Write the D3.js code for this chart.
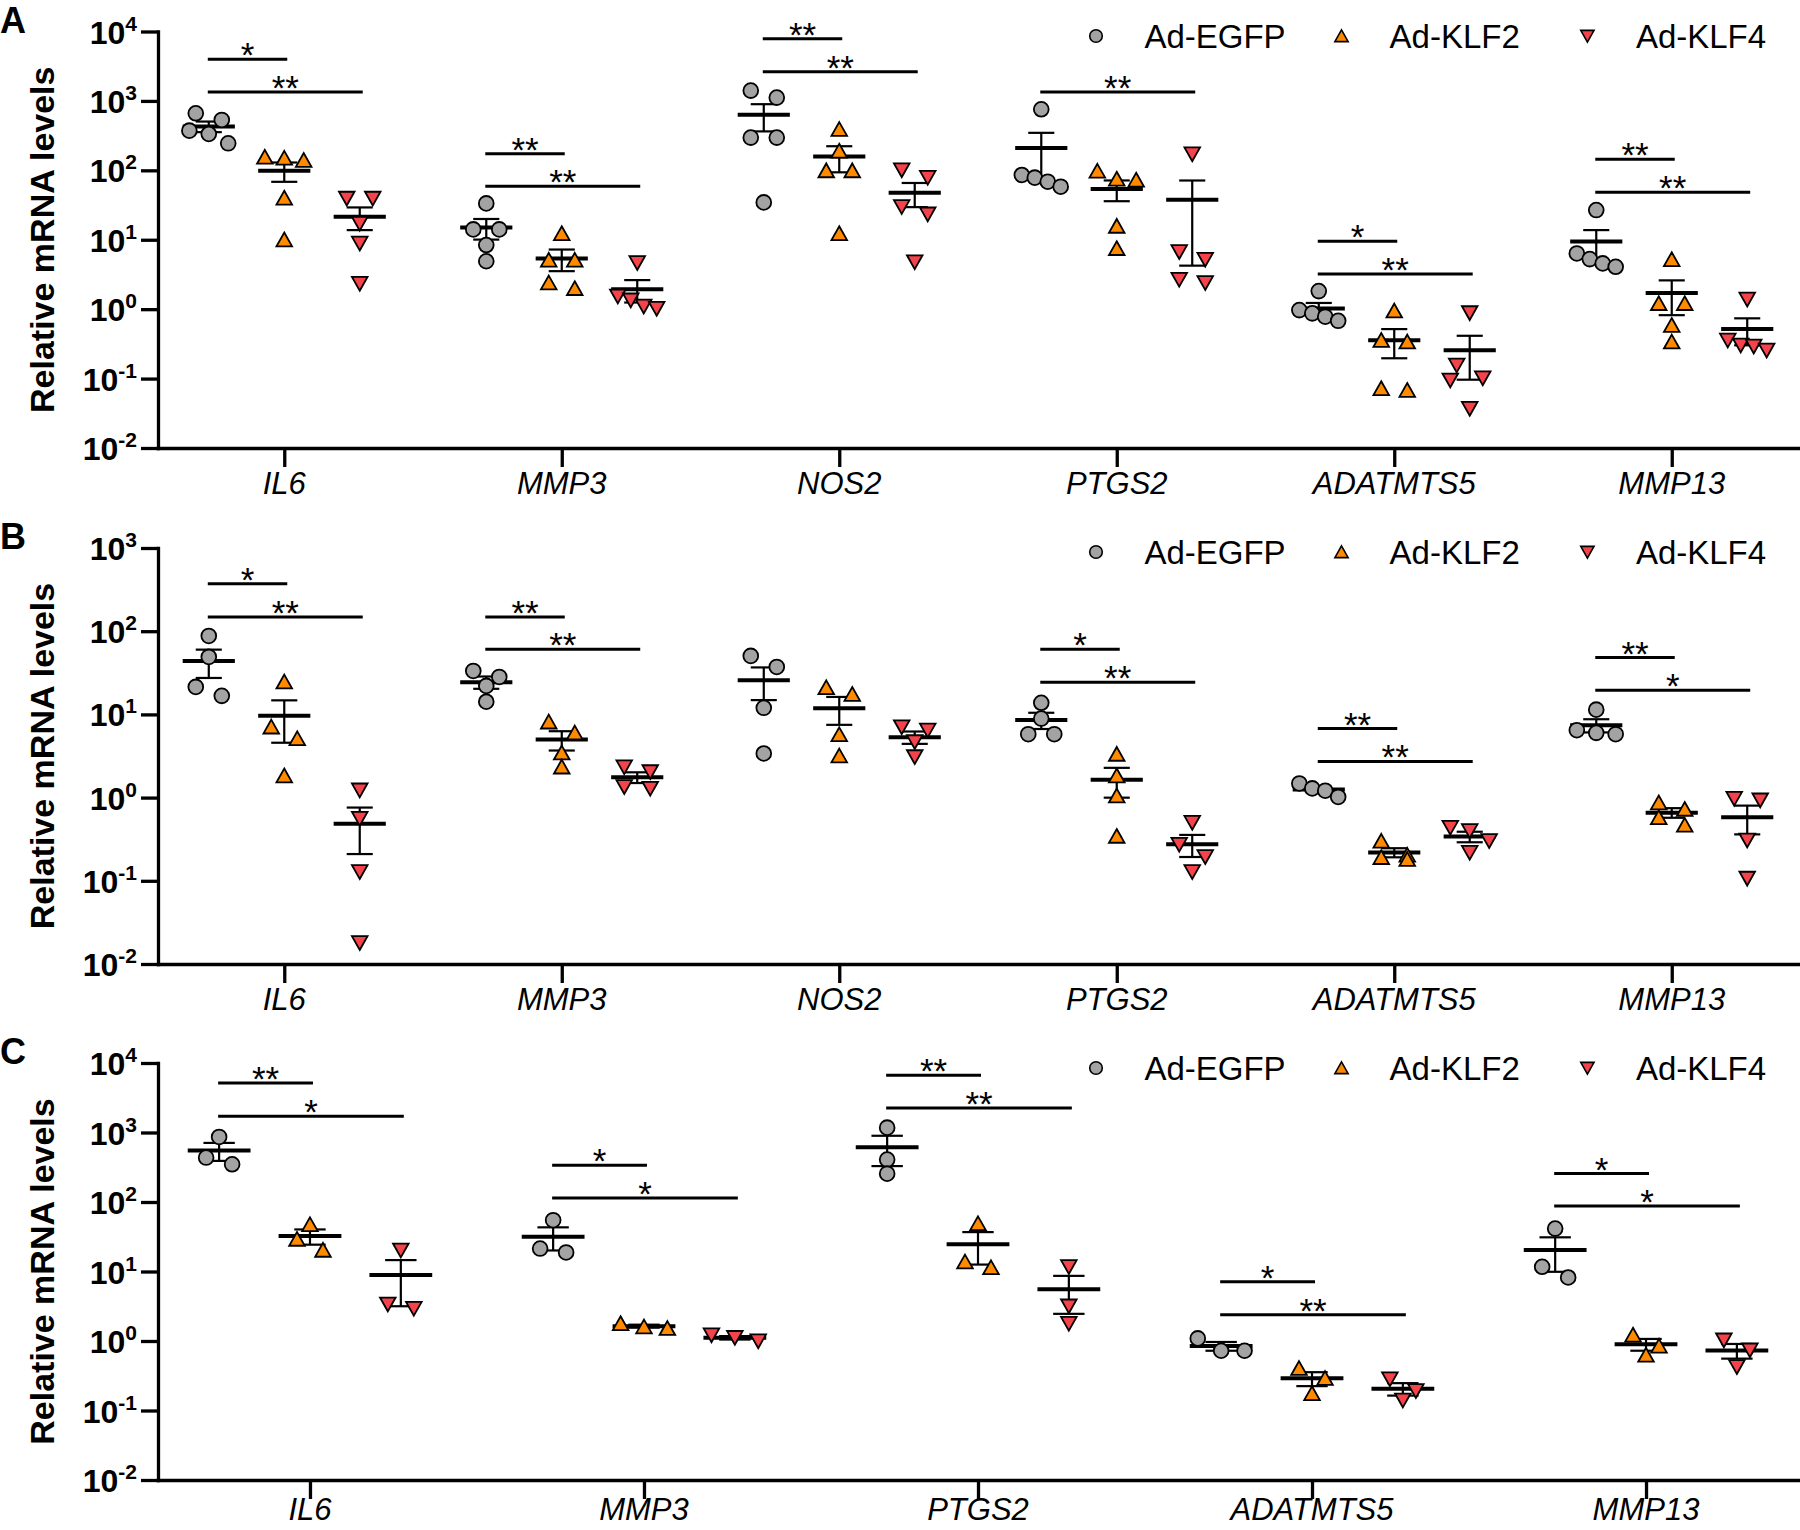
<!DOCTYPE html>
<html><head><meta charset="utf-8">
<script src="https://cdn.jsdelivr.net/npm/d3@7"></script>
<style>body{margin:0;background:#fff}svg{display:block;font-family:Arial,"Liberation Sans",sans-serif}</style>
</head><body>
<svg id="chart" width="1800" height="1530"></svg>
<script>
// ---------- DATA ----------
const groups = ["Ad-EGFP", "Ad-KLF2", "Ad-KLF4"];
const genesAB = ["IL6", "MMP3", "NOS2", "PTGS2", "ADATMTS5", "MMP13"];
const genesC = ["IL6", "MMP3", "PTGS2", "ADATMTS5", "MMP13"];
const expsA = [-2, -1, 0, 1, 2, 3, 4];
const expsB = [-2, -1, 0, 1, 2, 3];
const expsC = [-2, -1, 0, 1, 2, 3, 4];

// Panel A (n=5), one list per gene
const A_EGFP = [[664, 532, 373, 334, 245], [33.4, 14.1, 14.1, 8.4, 4.9], [1409, 1117, 296, 296, 34.5],
                [758, 85.7, 78.4, 68.6, 58.1], [1.82, 0.97, 0.87, 0.78, 0.68], [26.8, 6.35, 5.26, 4.56, 4.08]];
const A_KLF2 = [[155, 150, 140, 40, 10], [12.3, 5.1, 5.1, 2.4, 1.99], [390, 190, 99, 99, 12.3],
                [97.7, 75, 72.6, 15.7, 7.5], [0.946, 0.357, 0.338, 0.072, 0.068], [5.2, 1.21, 1.21, 0.587, 0.338]];
const A_KLF4 = [[39.5, 39.5, 17.2, 8.9, 2.34], [4.66, 1.54, 1.35, 1.1, 1.02], [101, 79, 29.9, 23.4, 4.8],
                [172, 6.7, 5.2, 2.68, 2.4], [0.885, 0.156, 0.102, 0.095, 0.037], [1.39, 0.357, 0.303, 0.292, 0.256]];
// Panel B (n=4)
const B_EGFP = [[87.7, 49.1, 21.4, 16.7], [33.3, 28.2, 22, 14.2], [50.5, 37.2, 12, 3.39],
                [13.8, 8.91, 5.78, 5.78], [1.48, 1.29, 1.21, 1.02], [11.4, 6.46, 6.0, 5.78]];
const B_KLF2 = [[24.6, 7.08, 5.13, 1.83], [8.13, 6.0, 3.45, 2.34], [21, 17.5, 5.73, 3.18],
                [3.33, 1.83, 1.05, 0.344], [0.3, 0.204, 0.191, 0.181], [0.867, 0.726, 0.577, 0.467]];
const B_KLF4 = [[1.23, 0.561, 0.1285, 0.018], [2.34, 2.04, 1.35, 1.29], [7.08, 6.46, 4.68, 3.09],
                [0.502, 0.2735, 0.1945, 0.1285], [0.4375, 0.399, 0.303, 0.219], [0.977, 0.933, 0.308, 0.107]];
// Panel C (n=3)
const C_EGFP = [[863, 436, 349], [54.7, 21.4, 18.8], [1175, 408, 256], [1.09, 0.724, 0.724], [41.5, 11.7, 8.2]];
const C_KLF2 = [[47.4, 29.2, 20.3], [1.79, 1.60, 1.52], [49, 13.8, 11.4], [0.404, 0.29, 0.176], [1.22, 0.846, 0.627]];
const C_KLF4 = [[20.3, 3.39, 2.94], [1.22, 1.12, 1.0], [11.7, 3.18, 1.79], [0.284, 0.192, 0.141], [1.03, 0.74, 0.426]];

// significance brackets: [gene, comparedGroupIndex, label, level]
const sigA = [["IL6", 1, "*", 3981], ["IL6", 2, "**", 1343], ["MMP3", 1, "**", 174], ["MMP3", 2, "**", 58.9],
              ["NOS2", 1, "**", 7852], ["NOS2", 2, "**", 2630], ["PTGS2", 2, "**", 1343],
              ["ADATMTS5", 1, "*", 9.55], ["ADATMTS5", 2, "**", 3.2], ["MMP13", 1, "**", 144.5], ["MMP13", 2, "**", 48.3]];
const sigB = [["IL6", 1, "*", 373], ["IL6", 2, "**", 148], ["MMP3", 1, "**", 148], ["MMP3", 2, "**", 60.7],
              ["PTGS2", 1, "*", 60.7], ["PTGS2", 2, "**", 24.4], ["ADATMTS5", 1, "**", 6.76], ["ADATMTS5", 2, "**", 2.72],
              ["MMP13", 1, "**", 48.2], ["MMP13", 2, "*", 19.5]];
const sigC = [["IL6", 1, "**", 5152], ["IL6", 2, "*", 1710], ["MMP3", 1, "*", 338], ["MMP3", 2, "*", 114.6],
              ["PTGS2", 1, "**", 6653], ["PTGS2", 2, "**", 2254], ["ADATMTS5", 1, "*", 7.1], ["ADATMTS5", 2, "**", 2.38],
              ["MMP13", 1, "*", 256.4], ["MMP13", 2, "*", 87.9]];

// ---------- LAYOUT ----------
const X0 = 158, X1 = 1798;
const colors = ["#a3a3a3", "#ff8a00", "#f4434b"];
const panels = [
  {letter: "A", genes: genesAB, exps: expsA, top: 31.5, bottom: 448, data: [A_EGFP, A_KLF2, A_KLF4], sig: sigA, legY: 36},
  {letter: "B", genes: genesAB, exps: expsB, top: 548, bottom: 964, data: [B_EGFP, B_KLF2, B_KLF4], sig: sigB, legY: 552},
  {letter: "C", genes: genesC, exps: expsC, top: 1063, bottom: 1480, data: [C_EGFP, C_KLF2, C_KLF4], sig: sigC, legY: 1068}
];

const svg = d3.select("#chart");

function marker(sel, k, scale) {
  const s = scale || 1;
  if (k === 0) {
    return sel.append("circle").attr("r", 7.4 * s);
  } else if (k === 1) {
    return sel.append("path").attr("d", `M0,${-7.2*s}L${7.8*s},${6.6*s}L${-7.8*s},${6.6*s}Z`);
  } else {
    return sel.append("path").attr("d", `M0,${7.2*s}L${7.8*s},${-6.6*s}L${-7.8*s},${-6.6*s}Z`);
  }
}

// row-based scatter offsets (GraphPad-like)
function scatterOffsets(vals, y, W) {
  const D = 14;
  const pts = vals.map((v, i) => ({i, py: y(v)})).sort((a, b) => a.py - b.py);
  const rows = [];
  pts.forEach(p => {
    const r = rows[rows.length - 1];
    if (r && p.py - r[0].py < D) r.push(p); else rows.push([p]);
  });
  const placed = [];
  const out = new Array(vals.length);
  rows.forEach(r => {
    const n = r.length;
    let offs;
    if (n === 1) offs = [0];
    else if (n === 2) offs = [-13, 13];
    else offs = d3.range(n).map(j => -W / 2 + j * W / (n - 1));
    if (n === 1) {
      const p = r[0];
      const cands = [0, -W / 2, W / 2, -W, W];
      let best = 0;
      for (const c of cands) {
        if (placed.every(q => Math.hypot(q.dx - c, q.py - p.py) >= D)) { best = c; break; }
      }
      offs = [best];
    }
    r.forEach((p, j) => { out[p.i] = offs[j]; placed.push({dx: offs[j], py: p.py}); });
  });
  return out;
}

panels.forEach(P => {
  const g = svg.append("g");
  const y = d3.scaleLog().domain([1e-2, Math.pow(10, d3.max(P.exps))]).range([P.bottom, P.top]);
  const x = d3.scalePoint().domain(P.genes).range([X0, X1]).padding(0.455);
  const step = x.step();
  const off = 0.272 * step;
  const meanHW = 0.094 * step, capHW = 0.047 * step, W = 0.14 * step;

  // panel letter
  g.append("text").attr("x", 0).attr("y", P.top + 1).attr("font-size", 36).attr("font-weight", "bold").text(P.letter);

  // y axis
  const ya = g.append("g").attr("transform", `translate(${X0},0)`)
    .call(d3.axisLeft(y).tickValues(P.exps.map(e => Math.pow(10, e))).tickSize(17).tickSizeOuter(0).tickFormat(""));
  ya.selectAll("path,line").attr("stroke", "#000").attr("stroke-width", 3.3);
  ya.select("path").attr("stroke-linecap", "square");
  P.exps.forEach(e => {
    const t = g.append("text").attr("x", 137).attr("y", y(Math.pow(10, e)) + 12)
      .attr("text-anchor", "end").attr("font-weight", "bold").attr("font-size", 32);
    t.append("tspan").text("10");
    t.append("tspan").attr("dy", -13).attr("font-size", 21).text(e);
  });
  // y title
  g.append("text").attr("transform", `translate(54,${(P.top + P.bottom) / 2}) rotate(-90)`)
    .attr("text-anchor", "middle").attr("font-weight", "bold").attr("font-size", 34).text("Relative mRNA levels");

  // x axis
  const xa = g.append("g").attr("transform", `translate(0,${P.bottom})`)
    .call(d3.axisBottom(x).tickSize(19).tickSizeOuter(0).tickFormat(""));
  xa.selectAll("path,line").attr("stroke", "#000").attr("stroke-width", 3.3);
  xa.select("path").attr("stroke-linecap", "square");
  P.genes.forEach(gn => {
    g.append("text").attr("x", x(gn)).attr("y", Math.min(P.bottom + 46, 1520)).attr("text-anchor", "middle")
      .attr("font-style", "italic").attr("font-size", 31).text(gn);
  });

  // data groups
  const lines = g.append("g"), pts = g.append("g");
  P.genes.forEach((gn, gi) => {
    groups.forEach((grp, k) => {
      const vals = P.data[k][gi];
      const cx = x(gn) + (k - 1) * off;
      const m = d3.mean(vals);
      const sem = d3.deviation(vals) / Math.sqrt(vals.length);
      // error bar
      lines.append("line").attr("x1", cx).attr("x2", cx).attr("y1", y(m + sem)).attr("y2", y(Math.max(m - sem, 1e-3)))
        .attr("stroke", "#000").attr("stroke-width", 2.2);
      [m + sem, m - sem].forEach(v => {
        lines.append("line").attr("x1", cx - capHW).attr("x2", cx + capHW).attr("y1", y(v)).attr("y2", y(v))
          .attr("stroke", "#000").attr("stroke-width", 2.2);
      });
      lines.append("line").attr("x1", cx - meanHW).attr("x2", cx + meanHW).attr("y1", y(m)).attr("y2", y(m))
        .attr("stroke", "#000").attr("stroke-width", 4);
      // points
      const dxs = scatterOffsets(vals, y, W);
      vals.forEach((v, i) => {
        const gg = pts.append("g").attr("transform", `translate(${cx + dxs[i]},${y(v)})`);
        marker(gg, k).attr("fill", colors[k]).attr("stroke", "#000").attr("stroke-width", 1.8);
      });
    });
  });

  // significance bars
  P.sig.forEach(([gn, k, lab, lvl]) => {
    const xa0 = x(gn) - off - 1, xa1 = x(gn) + (k - 1) * off + 3;
    const yy = y(lvl);
    g.append("line").attr("x1", xa0).attr("x2", xa1).attr("y1", yy).attr("y2", yy)
      .attr("stroke", "#000").attr("stroke-width", 3);
    g.append("text").attr("x", (xa0 + xa1) / 2).attr("y", yy + 8).attr("text-anchor", "middle")
      .attr("font-size", 35).text(lab);
  });

  // legend
  const legX = [1096, 1341.5, 1587.4], legTX = [1144.4, 1389.6, 1635.9];
  groups.forEach((grp, k) => {
    const lg = g.append("g").attr("transform", `translate(${legX[k]},${P.legY})`);
    marker(lg, k, 0.85).attr("fill", colors[k]).attr("stroke", "#000").attr("stroke-width", 1.6);
    g.append("text").attr("x", legTX[k]).attr("y", P.legY + 12).attr("font-size", 33).text(grp);
  });
});
</script>
</body></html>
